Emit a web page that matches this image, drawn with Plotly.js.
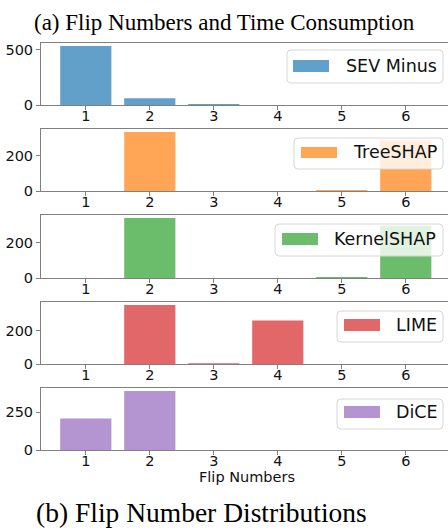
<!DOCTYPE html>
<html>
<head>
<meta charset="utf-8">
<script src="https://cdn.plot.ly/plotly-3.0.1.min.js"></script>
<style>html,body{margin:0;padding:0;background:#fff;}#chart{width:448px;height:529px;}</style>
</head>
<body>
<div id="chart"></div>
<script>
// ---- data ----
const flipNumbers = [1, 2, 3, 4, 5, 6];
const tickLabels = ['1', '2', '3', '4', '5', '6'];
const sevMinus   = [533, 60, 9, 0, 0, 0];
const treeShap   = [0, 337, 0, 0, 6, 290];
const kernelShap = [0, 339, 0, 0, 5, 295];
const lime       = [0, 356, 5, 262, 0, 0];
const dice       = [208, 390, 0, 0, 0, 0];
const seriesNames = ['SEV Minus', 'TreeSHAP', 'KernelSHAP', 'LIME', 'DiCE'];
const seriesValues = [sevMinus, treeShap, kernelShap, lime, dice];
const yTickValues = [[0, 500], [0, 200], [0, 200], [0, 200], [0, 250]];
const captionTop = '(a) Flip Numbers and Time Consumption';
const captionBottom = '(b) Flip Number Distributions';
const xAxisLabel = 'Flip Numbers';

// ---- styling / layout (pixels) ----
const W = 448, H = 529, ML = 41;
const colors = ['#1f77b4', '#ff7f0e', '#2ca02c', '#d62728', '#9467bd'];
const panelPx = [[43, 105], [129, 191], [215, 278], [302, 364], [388, 450]]; // top, bottom
const legendPx = [
  {box: [287, 50, 443, 83],  patch: [293, 60, 329, 72],  tx: 344, ty: 66},
  {box: [294, 138, 443, 169], patch: [301, 147, 337, 158], tx: 351, ty: 152},
  {box: [275, 224, 443, 256], patch: [282, 233, 318, 245], tx: 332, ty: 239},
  {box: [337, 311, 443, 342], patch: [344, 319, 380, 331], tx: 394, ty: 325},
  {box: [337, 399, 443, 429], patch: [344, 406, 380, 418], tx: 394, ty: 412}
];
const px2x = p => (p - ML) / (W - ML);
const px2y = p => 1 - p / H;
const tickFont = {family: 'DejaVu Sans', size: 14.5, color: '#111'};
const spine = '#808080';

const traces = [];
const layout = {
  width: W, height: H,
  margin: {l: ML, r: 0, t: 0, b: 0},
  paper_bgcolor: '#fff', plot_bgcolor: '#fff',
  showlegend: false, bargap: 0.2,
  shapes: [], annotations: []
};

seriesValues.forEach((vals, i) => {
  const n = i === 0 ? '' : String(i + 1);
  traces.push({
    type: 'bar', x: flipNumbers, y: vals, name: seriesNames[i],
    xaxis: 'x' + n, yaxis: 'y' + n, width: 0.8,
    marker: {color: colors[i], opacity: 0.7, line: {width: 0}},
    hoverinfo: 'x+y'
  });
  const [top, bot] = panelPx[i];
  layout['xaxis' + n] = {
    domain: [0, 1], anchor: 'y' + n, range: [0.3, 6.66],
    tickvals: flipNumbers, ticktext: tickLabels, ticks: 'outside', ticklen: 4,
    ticklabelstandoff: -6,
    tickcolor: spine, tickfont: tickFont, showgrid: false, zeroline: false,
    showline: true, mirror: true, linecolor: spine, linewidth: 1, fixedrange: true
  };
  layout['yaxis' + n] = {
    domain: [px2y(bot), px2y(top)], anchor: 'x' + n,
    range: [0, Math.max(...vals) * 1.05],
    tickvals: yTickValues[i], ticks: 'outside', ticklen: 4, tickcolor: spine,
    tickfont: tickFont, showgrid: false, zeroline: false,
    showline: true, linecolor: spine, linewidth: 1, fixedrange: true
  };
  // legend box (matplotlib-like, rounded, semi-transparent)
  const L = legendPx[i];
  const [x0, y0, x1, y1] = L.box, r = 4;
  const path = 'M' + px2x(x0 + r) + ',' + px2y(y0) +
    ' L' + px2x(x1 - r) + ',' + px2y(y0) +
    ' Q' + px2x(x1) + ',' + px2y(y0) + ' ' + px2x(x1) + ',' + px2y(y0 + r) +
    ' L' + px2x(x1) + ',' + px2y(y1 - r) +
    ' Q' + px2x(x1) + ',' + px2y(y1) + ' ' + px2x(x1 - r) + ',' + px2y(y1) +
    ' L' + px2x(x0 + r) + ',' + px2y(y1) +
    ' Q' + px2x(x0) + ',' + px2y(y1) + ' ' + px2x(x0) + ',' + px2y(y1 - r) +
    ' L' + px2x(x0) + ',' + px2y(y0 + r) +
    ' Q' + px2x(x0) + ',' + px2y(y0) + ' ' + px2x(x0 + r) + ',' + px2y(y0) + ' Z';
  layout.shapes.push({type: 'path', xref: 'paper', yref: 'paper', path: path,
    fillcolor: 'rgba(255,255,255,0.8)', line: {color: '#d6d6d6', width: 1}, layer: 'above'});
  layout.shapes.push({type: 'rect', xref: 'paper', yref: 'paper',
    x0: px2x(L.patch[0]), x1: px2x(L.patch[2]), y0: px2y(L.patch[3]), y1: px2y(L.patch[1]),
    fillcolor: colors[i], opacity: 0.7, line: {width: 0}, layer: 'above'});
  layout.annotations.push({xref: 'paper', yref: 'paper', x: px2x(L.tx), y: px2y(L.ty),
    xanchor: 'left', yanchor: 'middle', showarrow: false, text: seriesNames[i],
    font: {family: 'DejaVu Sans', size: 17.5, color: '#111'}});
});

layout.annotations.push({xref: 'paper', yref: 'paper', x: px2x(247), y: px2y(477),
  xanchor: 'center', yanchor: 'middle', showarrow: false, text: xAxisLabel,
  font: {family: 'DejaVu Sans', size: 14.5, color: '#111'}});
layout.annotations.push({xref: 'paper', yref: 'paper', x: px2x(224), y: px2y(23),
  xanchor: 'center', yanchor: 'middle', showarrow: false, text: captionTop,
  font: {family: 'Liberation Serif', size: 23, color: '#000'}});
layout.annotations.push({xref: 'paper', yref: 'paper', x: px2x(201), y: px2y(512),
  xanchor: 'center', yanchor: 'middle', showarrow: false, text: captionBottom,
  font: {family: 'Liberation Serif', size: 27.5, color: '#000'}});

Plotly.newPlot('chart', traces, layout, {staticPlot: true, displayModeBar: false});
</script>
</body>
</html>
